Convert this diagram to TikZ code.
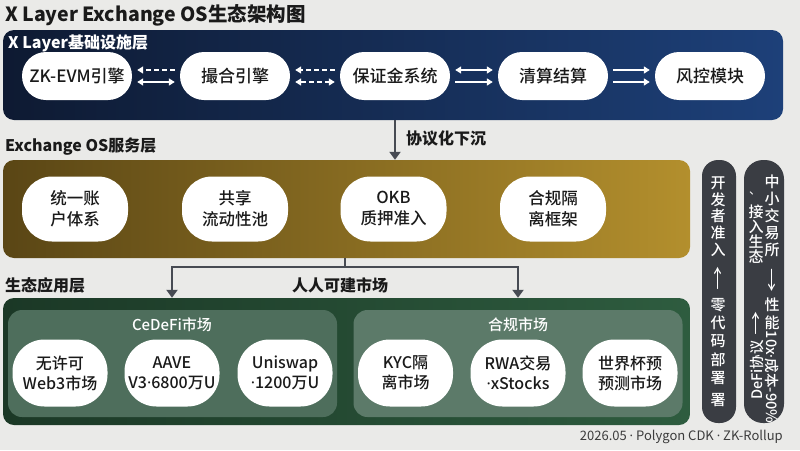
\documentclass[tikz,border=0pt]{standalone}
\usepackage{fontspec}
\setmainfont{Noto Sans CJK SC}
\newfontfamily\med{Noto Sans CJK SC}[UprightFont=* Medium]
\newfontfamily\latdot{Noto Sans}
\newcommand{\md}{{\latdot ·}}
\usetikzlibrary{arrows.meta,shapes.misc}
\definecolor{bg}{HTML}{EAEAE8}
\definecolor{navyL}{HTML}{0E1A32}
\definecolor{navyR}{HTML}{1D4079}
\definecolor{goldL}{HTML}{5A4615}
\definecolor{goldR}{HTML}{B38F2D}
\definecolor{grnL}{HTML}{1B3826}
\definecolor{grnR}{HTML}{2E5C3F}
\definecolor{panel}{HTML}{4E6E5C}
\definecolor{vpill}{HTML}{3A3D43}
\definecolor{txt}{HTML}{1A1A1A}
\definecolor{conn}{HTML}{474B53}
\tikzset{
  pillA/.style={rounded rectangle, fill=white, minimum width=110pt, minimum height=48pt, inner sep=0pt, text=txt, font=\fontsize{17}{20}\selectfont\med},
  pillB/.style={rectangle, rounded corners=30pt, fill=white, minimum width=106pt, minimum height=65pt, inner sep=0pt, align=center, text=txt, font=\fontsize{16.5}{21}\selectfont\med},
  pillC/.style={rectangle, rounded corners=32pt, fill=white, minimum width=95pt, minimum height=67pt, inner sep=0pt, align=center, text=txt, font=\fontsize{16}{20}\selectfont\med},
  layerlabel/.style={anchor=west, inner sep=0pt, font=\fontsize{16}{19}\selectfont\bfseries},
  warr/.style={draw=white, line width=1.8pt, shorten <=5pt, shorten >=5pt},
  tipw/.style={-{Triangle[width=7pt,length=6pt]}},
  dconn/.style={draw=conn, line width=2pt},
  dtip/.style={-{Triangle[width=11pt,length=8pt]}},
  vtext/.style={text=white, inner sep=0pt, align=center, font=\fontsize{15}{17}\selectfont\med},
  varr/.style={text=white, inner sep=0pt, font=\fontsize{15}{17}\selectfont, yscale=1.6},
}
\begin{document}
\begin{tikzpicture}[x=1pt,y=-1pt]
\useasboundingbox (0,0) rectangle (800,450);
\fill[bg] (0,0) rectangle (800,450);

% title
\node[anchor=west, inner sep=0pt, text=txt, font=\fontsize{19.5}{23}\selectfont\bfseries] (title) at (5,15) {X Layer Exchange OS生态架构图};

% layer 1
\node[rectangle, rounded corners=11pt, left color=navyL, right color=navyR, minimum width=780pt, minimum height=90pt, inner sep=0pt] (L1) at (393,75) {};
\node[layerlabel, text=white] (l1lab) at (8,43) {X Layer基础设施层};
\node[pillA] (zk) at (77,76) {ZK-EVM引擎};
\node[pillA] (cm) at (235,76) {撮合引擎};
\node[pillA] (bz) at (395,76) {保证金系统};
\node[pillA] (qs) at (553,76) {清算结算};
\node[pillA] (fk) at (710,76) {风控模块};
% arrows
\draw[warr, dashed, dash pattern=on 5pt off 3pt, tipw] ([yshift=6pt]cm.west) -- ([yshift=6pt]zk.east);
\draw[warr, {Triangle[width=7pt,length=6pt]}-{Triangle[width=7pt,length=6pt]}] ([yshift=-6pt]zk.east) -- ([yshift=-6pt]cm.west);
\draw[warr, dashed, dash pattern=on 5pt off 3pt, tipw] ([yshift=6pt]bz.west) -- ([yshift=6pt]cm.east);
\draw[warr, dashed, dash pattern=on 5pt off 3pt, {Triangle[width=7pt,length=6pt]}-{Triangle[width=7pt,length=6pt]}] ([yshift=-6pt]cm.east) -- ([yshift=-6pt]bz.west);
\draw[warr, {Triangle[width=7pt,length=6pt]}-{Triangle[width=7pt,length=6pt]}] ([yshift=6pt]bz.east) -- ([yshift=6pt]qs.west);
\draw[warr, tipw] ([yshift=-6pt]bz.east) -- ([yshift=-6pt]qs.west);
\draw[warr, tipw] ([yshift=6pt]qs.east) -- ([yshift=6pt]fk.west);
\draw[warr, tipw] ([yshift=-6pt]qs.east) -- ([yshift=-6pt]fk.west);

% layer 2
\node[rectangle, rounded corners=11pt, left color=goldL, right color=goldR, minimum width=687pt, minimum height=98pt, inner sep=0pt] (L2) at (346.5,209) {};
\node[layerlabel, text=txt] (l2lab) at (5,147) {Exchange OS服务层};
\node[pillB] (zh) at (75,209) {统一账\\户体系};
\node[pillB] (lp) at (235,209) {共享\\流动性池};
\node[pillB] (okb) at (393.5,209) {OKB\\质押准入};
\node[pillB] (hg) at (553,209) {合规隔\\离框架};
\draw[dconn, dtip] (bz |- L1.south) -- (bz |- L2.north);
\node[anchor=west, inner sep=0pt, text=txt, font=\fontsize{16}{19}\selectfont\bfseries] (xy) at (406,138) {协议化下沉};

% layer 3
\node[rectangle, rounded corners=11pt, left color=grnL, right color=grnR, minimum width=687pt, minimum height=127pt, inner sep=0pt] (L3) at (346.5,361.5) {};
\node[rectangle, rounded corners=14pt, fill=panel, minimum width=329pt, minimum height=107pt, inner sep=0pt] (P1) at (172.5,363.5) {};
\node[rectangle, rounded corners=14pt, fill=panel!92!white, minimum width=329pt, minimum height=107pt, inner sep=0pt] (P2) at (518,363.5) {};
\node[text=white, inner sep=0pt, font=\fontsize{15}{18}\selectfont\med] (t1) at (172,325) {CeDeFi市场};
\node[text=white, inner sep=0pt, font=\fontsize{15}{18}\selectfont\med] (t2) at (518,325) {合规市场};
\node[pillC] (w3) at (60,373) {无许可\\Web3市场};
\node[pillC] (aave) at (172,373) {AAVE\\V3\md6800万U};
\node[pillC] (uni) at (285,373) {Uniswap\\\md1200万U};
\node[pillC] (kyc) at (405.5,373) {KYC隔\\离市场};
\node[pillC] (rwa) at (518,373) {RWA交易\\\md xStocks};
\node[pillC] (wc) at (630,373) {世界杯预\\预测市场};
\node[layerlabel, text=txt] (l3lab) at (5,285) {生态应用层};

% connector layer2 -> layer3
\coordinate (j) at (345,267);
\draw[dconn] (L2.south -| j) -- (j);
\draw[dconn, dtip] (j) -| (aave |- L3.north);
\draw[dconn, dtip] (j) -| (rwa |- L3.north);
\node[inner sep=0pt, text=txt, font=\fontsize{16}{19}\selectfont\bfseries] (rr) at (340,285) {人人可建市场};

% vertical pills
\node[rectangle, rounded corners=16pt, fill=vpill, minimum width=34pt, minimum height=263pt, inner sep=0pt] (V1) at (719,291.5) {};
\node[rectangle, rounded corners=19pt, fill=vpill, minimum width=40pt, minimum height=263pt, inner sep=0pt] (V2) at (764,291.5) {};
\node[vtext, font=\fontsize{15}{16.8}\selectfont\med] (v1a) at (718,216.5) {开\\发\\者\\准\\入};
\node[varr] (v1b) at (718,278) {↑};
\node[vtext, font=\fontsize{15}{18.2}\selectfont\med] (v1c) at (718,341.5) {零\\代\\码\\部\\署};
\node[vtext] (v1d) at (718,400) {署};
\node[vtext, font=\fontsize{15}{17}\selectfont\med] (v2a) at (772,216) {中\\小\\交\\易\\所};
\node[varr] (v2b) at (772,280) {↓};
\node[vtext, font=\fontsize{15}{18}\selectfont\med] (v2c) at (772,314) {性\\能};
\node[vtext, rotate=-90, font=\fontsize{14.5}{17}\selectfont\med] (v2d) at (772,377) {10x\md 成本-90\%};
\node[vtext, font=\fontsize{12}{14}\selectfont] (v2e) at (755,193) {、};
\node[vtext, font=\fontsize{15}{15}\selectfont\med] (v2f) at (756,234.5) {接\\入\\生\\态};
\node[varr] (v2g) at (756,323) {↑};
\node[vtext, rotate=90, font=\fontsize{14.5}{17}\selectfont\med] (v2h) at (757,370) {DeFi协议};

% footer
\node[anchor=east, inner sep=0pt, text=txt!85, font=\fontsize{13}{15}\selectfont] (foot) at (783,437) {2026.05 \md{} Polygon CDK \md{} ZK-Rollup};
\end{tikzpicture}
\end{document}
